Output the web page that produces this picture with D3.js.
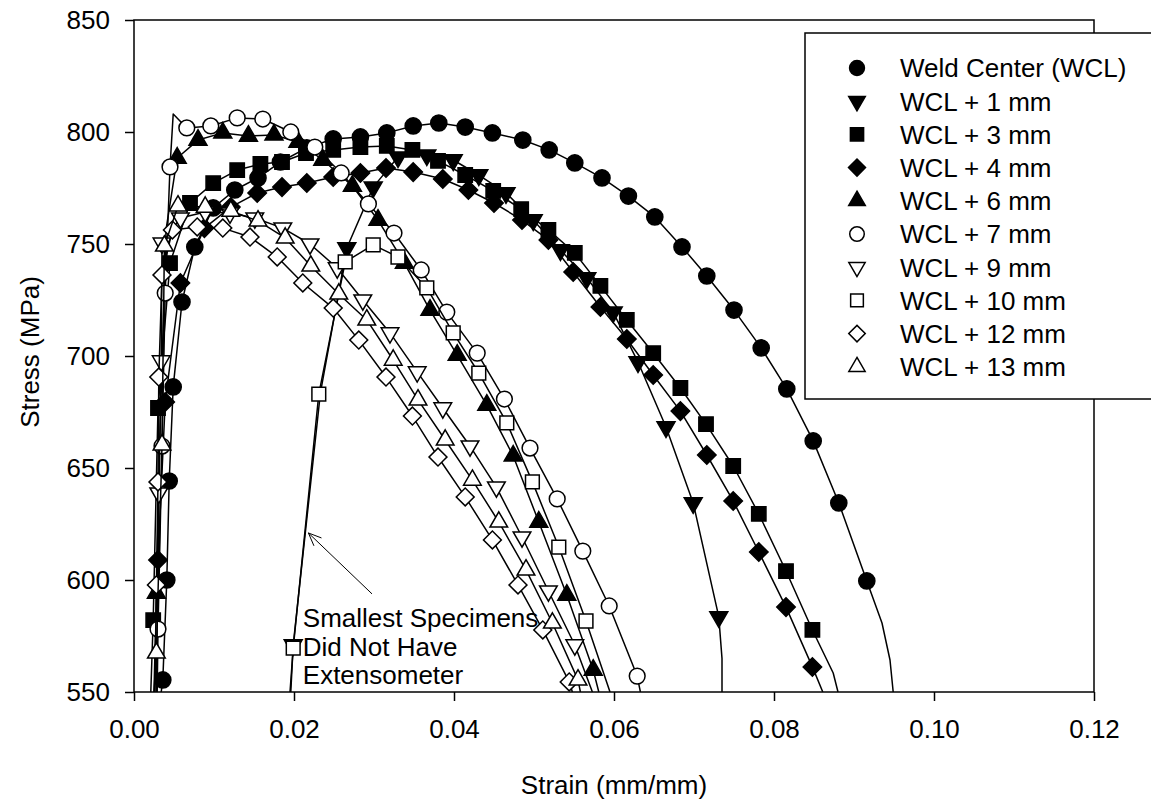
<!DOCTYPE html>
<html>
<head>
<meta charset="utf-8">
<script src="https://cdnjs.cloudflare.com/ajax/libs/d3/7.8.5/d3.min.js"></script>
<style>
body { margin: 0; background: #fff; }
text { font-family: "Liberation Sans", Arial, sans-serif; fill: #000; }
</style>
</head>
<body>
<div id="chart"></div>
<script>
// Each point: [strain (mm/mm), stress (MPa), 1 = symbol drawn / 0 = curve only]
var wcl = [[0.0034,550,0],[0.0036,555.4,1],[0.0041,600,1],[0.0044,644.2,1],[0.0049,686.2,1],[0.0060,724.1,1],
  [0.0076,748.7,1],[0.0099,766.1,1],[0.0126,774.1,1],[0.0155,779.5,1],[0.0183,786.6,1],[0.0216,792.9,1],
  [0.0249,796.9,1],[0.0283,797.8,1],[0.0316,799.6,1],[0.0349,802.7,1],[0.0381,804.0,1],[0.0414,802.2,1],
  [0.0448,799.6,1],[0.0486,796.4,1],[0.0519,792.0,1],[0.0551,786.2,1],[0.0585,779.5,1],[0.0618,771.4,1],
  [0.0651,762.1,1],[0.0685,748.7,1],[0.0716,735.7,1],[0.0750,720.5,1],[0.0784,703.6,1],[0.0816,685.3,1],
  [0.0849,662.1,1],[0.0881,634.4,1],[0.0916,599.6,1],[0.0935,580.8,0],[0.0945,564.3,0],[0.0949,550,0]];

var wcl1 = [[0.0196,550,0],[0.0199,571.0,1],[0.0233,683.5,0],[0.0266,748.2,1],[0.0299,775.4,1],[0.0330,788.8,1],
  [0.0366,789.7,1],[0.0399,787.5,1],[0.0431,780.8,1],[0.0465,772.8,1],[0.0499,760.7,1],[0.0533,747.3,1],
  [0.0566,734.8,1],[0.0599,719.6,1],[0.0630,697.3,1],[0.0665,668.3,1],[0.0699,634.4,1],[0.0731,583.5,1],
  [0.0735,565,0],[0.0735,550,0]];

var wcl3 = [[0.0021,550,0],[0.0024,582.1,1],[0.0030,676.8,1],[0.0045,741.5,1],[0.0070,768.3,1],[0.0099,777.2,1],
  [0.0129,783.0,1],[0.0158,785.7,1],[0.0185,786.6,1],[0.0215,790.6,1],[0.0249,792.0,1],[0.0283,793.3,1],
  [0.0316,793.8,1],[0.0348,792.0,1],[0.0380,787.1,1],[0.0414,780.8,1],[0.0449,773.7,1],[0.0484,765.6,1],
  [0.0518,756.3,1],[0.0551,746.0,1],[0.0583,731.3,1],[0.0616,716.1,1],[0.0649,701.3,1],[0.0683,685.7,1],
  [0.0715,669.6,1],[0.0749,650.9,1],[0.0781,629.5,1],[0.0815,604.0,1],[0.0848,577.7,1],[0.0874,558.5,0],[0.0880,550,0]];

var wcl4 = [[0.0026,550,0],[0.0030,608.9,1],[0.0039,679.5,1],[0.0058,732.6,1],[0.0088,757.1,1],[0.0121,766.5,1],
  [0.0154,772.8,1],[0.0185,775.4,1],[0.0216,777.2,1],[0.0249,779.9,1],[0.0283,781.7,1],[0.0315,783.9,1],
  [0.0349,782.1,1],[0.0386,779.0,1],[0.0418,774.1,1],[0.0450,768.3,1],[0.0485,760.7,1],[0.0518,751.8,1],
  [0.0549,737.5,1],[0.0583,721.9,1],[0.0616,707.6,1],[0.0649,691.5,1],[0.0683,675.4,1],[0.0716,655.8,1],
  [0.0749,635.3,1],[0.0781,612.5,1],[0.0815,587.9,1],[0.0848,561.2,1],[0.0861,550,0]];

var wcl6 = [[0.0025,550,0],[0.0028,594.2,1],[0.0033,671.4,0],[0.0040,756.3,0],[0.0054,788.4,1],[0.0080,796.4,1],
  [0.0111,799.6,1],[0.0143,798.2,1],[0.0175,798.7,1],[0.0205,795.5,1],[0.0236,787.5,1],[0.0273,775.9,1],
  [0.0305,760.7,1],[0.0338,741.5,1],[0.0370,720.5,1],[0.0404,700.4,1],[0.0441,678.1,1],[0.0474,655.4,1],
  [0.0506,625.9,1],[0.0541,593.3,1],[0.0574,559.8,1],[0.0581,550,0]];

var wcl7 = [[0.0029,550,0],[0.0030,578.1,1],[0.0035,659.8,1],[0.0039,728.1,1],[0.0045,784.4,1],[0.0049,808.0,0],
  [0.0066,801.8,1],[0.0096,802.7,1],[0.0129,806.3,1],[0.0161,805.8,1],[0.0196,800.0,1],[0.0226,793.3,1],
  [0.0259,781.7,1],[0.0293,767.9,1],[0.0325,754.9,1],[0.0359,738.4,1],[0.0391,719.6,1],[0.0429,701.3,1],
  [0.0463,680.8,1],[0.0495,658.9,1],[0.0529,636.2,1],[0.0561,612.9,1],[0.0594,588.4,1],[0.0629,557.1,1],[0.0633,550,0]];

var wcl9 = [[0.0028,550,0],[0.0031,638.8,1],[0.0034,697.8,1],[0.0035,750.4,1],[0.0058,761.6,1],[0.0089,764.3,1],
  [0.0120,763.8,1],[0.0151,761.6,1],[0.0186,757.1,1],[0.0220,750.0,1],[0.0254,739.3,1],[0.0286,725.0,1],
  [0.0320,710.3,1],[0.0354,692.9,1],[0.0386,676.8,1],[0.0420,659.8,1],[0.0453,641.5,1],[0.0485,619.2,1],
  [0.0518,595.1,1],[0.0551,571.0,1],[0.0573,550,0]];

var wcl10 = [[0.0195,550,0],[0.0199,569.6,1],[0.0231,683.0,1],[0.0264,742.0,1],[0.0299,749.6,1],[0.0330,744.2,1],
  [0.0366,730.4,1],[0.0399,710.3,1],[0.0431,692.4,1],[0.0466,670.1,1],[0.0498,643.8,1],[0.0531,614.7,1],
  [0.0565,581.7,1],[0.0595,550,0]];

var wcl12 = [[0.0026,550,0],[0.0028,597.8,1],[0.0030,643.8,1],[0.0031,690.6,1],[0.0035,736.2,1],[0.0048,756.3,1],
  [0.0079,757.6,1],[0.0111,757.1,1],[0.0145,753.1,1],[0.0179,744.2,1],[0.0211,732.6,1],[0.0249,721.4,1],
  [0.0281,707.1,1],[0.0315,690.6,1],[0.0348,673.2,1],[0.0380,654.9,1],[0.0414,637.1,1],[0.0448,617.9,1],
  [0.0480,597.8,1],[0.0511,577.7,1],[0.0544,554.5,1],[0.0548,550,0]];

var wcl13 = [[0.0025,550,0],[0.0028,567.4,1],[0.0035,660.3,1],[0.0038,749.1,1],[0.0055,767.0,1],[0.0089,766.5,1],
  [0.0121,764.7,1],[0.0155,760.3,1],[0.0189,752.7,1],[0.0221,740.2,1],[0.0256,727.7,1],[0.0291,716.1,1],
  [0.0324,698.2,1],[0.0355,680.4,1],[0.0389,662.5,1],[0.0423,644.6,1],[0.0456,625.9,1],[0.0490,604.5,1],
  [0.0523,580.8,1],[0.0555,555.4,1],[0.0558,550,0]];

var seriesNames = ["Weld Center (WCL)", "WCL + 1 mm", "WCL + 3 mm", "WCL + 4 mm", "WCL + 6 mm",
  "WCL + 7 mm", "WCL + 9 mm", "WCL + 10 mm", "WCL + 12 mm", "WCL + 13 mm"];
var seriesData = [wcl, wcl1, wcl3, wcl4, wcl6, wcl7, wcl9, wcl10, wcl12, wcl13];

var xTicks = [0, 0.02, 0.04, 0.06, 0.08, 0.10, 0.12];
var yTicks = [550, 600, 650, 700, 750, 800, 850];

var noteLines = ["Smallest Specimens", "Did Not Have", "Extensometer"];

// Symbol for each series (filled ones first, then open)
var symbols = [
  {shape: d3.symbolCircle,   size: 205, rot: 0,   fill: "#000"},
  {shape: d3.symbolTriangle, size: 140, rot: 180, fill: "#000"},
  {shape: d3.symbolSquare,   size: 205, rot: 0,   fill: "#000"},
  {shape: d3.symbolSquare,   size: 170, rot: 45,  fill: "#000"},
  {shape: d3.symbolTriangle, size: 140, rot: 0,   fill: "#000"},
  {shape: d3.symbolCircle,   size: 195, rot: 0,   fill: "#fff"},
  {shape: d3.symbolTriangle, size: 135, rot: 180, fill: "#fff"},
  {shape: d3.symbolSquare,   size: 190, rot: 0,   fill: "#fff"},
  {shape: d3.symbolSquare,   size: 160, rot: 45,  fill: "#fff"},
  {shape: d3.symbolTriangle, size: 135, rot: 0,   fill: "#fff"}
];

var width = 1151, height = 808;

var x = d3.scaleLinear().domain([0, 0.12]).range([134, 1094]);
var y = d3.scaleLinear().domain([550, 850]).range([692, 20]);

var svg = d3.select("#chart")
  .append("svg")
  .attr("width", width)
  .attr("height", height);

svg.append("defs").append("clipPath").attr("id", "plotClip")
  .append("rect")
  .attr("x", x(0)).attr("y", y(850))
  .attr("width", x(0.12) - x(0)).attr("height", y(550) - y(850));

// Axes
var xAxis = svg.append("g")
  .attr("transform", "translate(0," + y(550) + ")")
  .call(d3.axisBottom(x).tickValues(xTicks).tickFormat(d3.format(".2f"))
    .tickSize(9).tickSizeOuter(0).tickPadding(19));

var yAxis = svg.append("g")
  .attr("transform", "translate(" + x(0) + ",0)")
  .call(d3.axisLeft(y).tickValues(yTicks).tickFormat(d3.format("d"))
    .tickSize(9).tickSizeOuter(0).tickPadding(15));

[xAxis, yAxis].forEach(function(g){
  g.select(".domain").remove();
  g.selectAll(".tick line").attr("stroke", "#000").attr("stroke-width", 1.5);
  g.selectAll(".tick text")
    .attr("font-family", "'Liberation Sans', Arial, sans-serif")
    .attr("font-size", 26)
    .attr("fill", "#000");
});

// Frame
svg.append("rect")
  .attr("x", x(0)).attr("y", y(850))
  .attr("width", x(0.12) - x(0)).attr("height", y(550) - y(850))
  .attr("fill", "none")
  .attr("stroke", "#000")
  .attr("stroke-width", 1.5);

// Axis titles
svg.append("text")
  .attr("x", (x(0) + x(0.12)) / 2)
  .attr("y", 794)
  .attr("text-anchor", "middle")
  .attr("font-size", 26)
  .text("Strain (mm/mm)");

svg.append("text")
  .attr("transform", "translate(39," + 352 + ") rotate(-90)")
  .attr("text-anchor", "middle")
  .attr("font-size", 26)
  .text("Stress (MPa)");

// Annotation (under the curves)
var note = svg.append("g");
noteLines.forEach(function(t, i){
  note.append("text")
    .attr("x", x(0.0211))
    .attr("y", y(579) + i * 28.5)
    .attr("font-size", 26)
    .text(t);
});

var arrowFrom = [x(0.02975), y(593.8)];
var arrowTo = [x(0.0218), y(621)];
var ang = Math.atan2(arrowFrom[1] - arrowTo[1], arrowFrom[0] - arrowTo[0]);
note.append("line")
  .attr("x1", arrowFrom[0]).attr("y1", arrowFrom[1])
  .attr("x2", arrowTo[0]).attr("y2", arrowTo[1])
  .attr("stroke", "#000").attr("stroke-width", 1);
[-0.4, 0.4].forEach(function(da){
  note.append("line")
    .attr("x1", arrowTo[0]).attr("y1", arrowTo[1])
    .attr("x2", arrowTo[0] + 14 * Math.cos(ang + da))
    .attr("y2", arrowTo[1] + 14 * Math.sin(ang + da))
    .attr("stroke", "#000").attr("stroke-width", 1);
});

// Curves with symbols
var line = d3.line()
  .x(function(d){ return x(d[0]); })
  .y(function(d){ return y(d[1]); });

var plot = svg.append("g").attr("clip-path", "url(#plotClip)");

seriesData.forEach(function(data, i){
  var s = symbols[i];
  var g = plot.append("g");

  g.append("path")
    .datum(data)
    .attr("d", line)
    .attr("fill", "none")
    .attr("stroke", "#000")
    .attr("stroke-width", 1.5)
    .attr("stroke-linejoin", "round");

  g.selectAll("path.sym")
    .data(data.filter(function(d){ return d[2] === 1; }))
    .enter()
    .append("path")
    .attr("class", "sym")
    .attr("d", d3.symbol().type(s.shape).size(s.size))
    .attr("transform", function(d){
      return "translate(" + x(d[0]) + "," + y(d[1]) + ") rotate(" + s.rot + ")";
    })
    .attr("fill", s.fill)
    .attr("stroke", "#000")
    .attr("stroke-width", 1.5);
});

// Legend
var legend = svg.append("g");
legend.append("rect")
  .attr("x", 805).attr("y", 33)
  .attr("width", 360).attr("height", 366)
  .attr("fill", "#fff")
  .attr("stroke", "#000")
  .attr("stroke-width", 1.5);

seriesNames.forEach(function(name, i){
  var s = symbols[i];
  var ly = 68 + i * 33.2;
  legend.append("path")
    .attr("d", d3.symbol().type(s.shape).size(s.size * 0.85))
    .attr("transform", "translate(857," + ly + ") rotate(" + s.rot + ")")
    .attr("fill", s.fill)
    .attr("stroke", "#000")
    .attr("stroke-width", 1.5);
  legend.append("text")
    .attr("x", 900)
    .attr("y", ly)
    .attr("dy", "0.36em")
    .attr("font-size", 26)
    .text(name);
});
</script>
</body>
</html>
